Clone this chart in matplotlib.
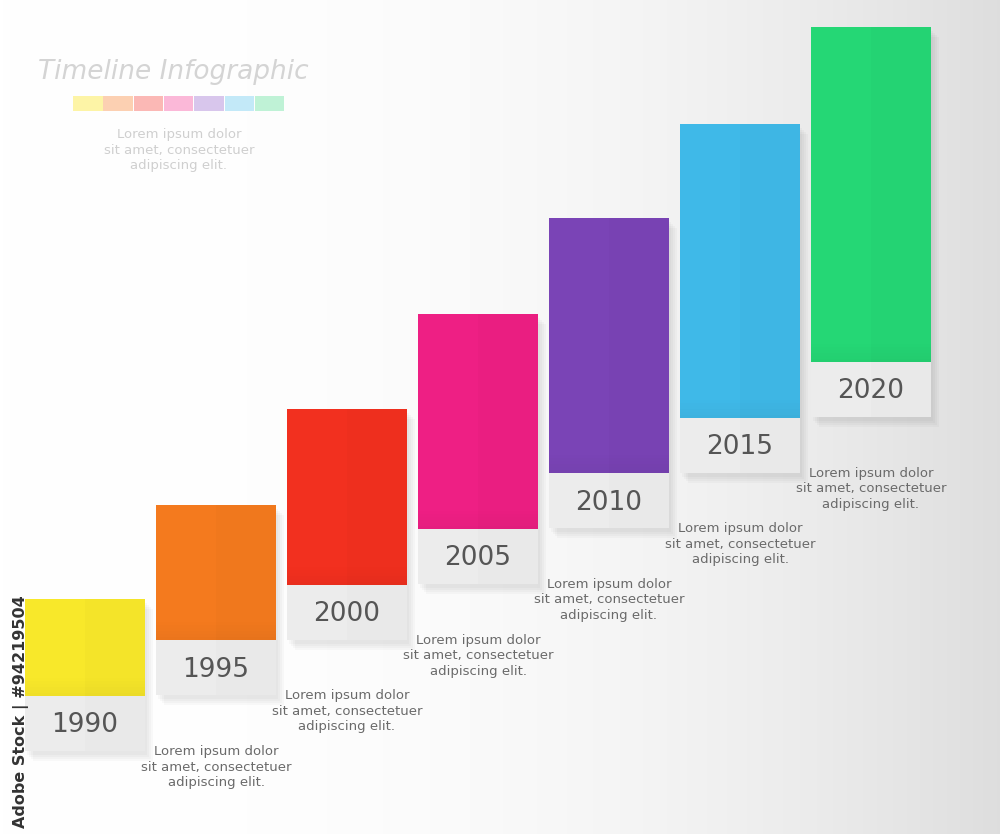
import matplotlib
matplotlib.use("Agg")
import matplotlib.pyplot as plt
import numpy as np
from matplotlib.patches import Rectangle

years = ["1990", "1995", "2000", "2005", "2010", "2015", "2020"]
colors = ["#f8e82a", "#f47a1e", "#f2301f", "#ee1f84", "#7a44b6", "#3fb9e8", "#25d775"]
bar_heights = [97, 135, 176, 215, 255, 294, 335]   # coloured part height (px)
swatches = ["#fdf4a6", "#fcd0b2", "#fbb8b5", "#fbb8d8", "#d8c6ec", "#c3e9f8", "#bff2d6"]
caption = "Lorem ipsum dolor\nsit amet, consectetuer\nadipiscing elit."

fig = plt.figure(figsize=(10, 8.34), dpi=100)
ax = fig.add_axes([0, 0, 1, 1])
ax.set_xlim(0, 1000); ax.set_ylim(834, 0); ax.axis("off")

# background gradient
grad = np.linspace(0, 1, 300) ** 2.5
bg = np.ones((10, 300, 3)) * (1 - 0.13 * grad)[None, :, None]
ax.imshow(bg, extent=[0, 1000, 834, 0], aspect="auto", zorder=0)

x0, step_x, w = 25, 131, 120
base_bottom, step_y, gray_h = 696, 55.7, 55
for i, (yr, c, h) in enumerate(zip(years, colors, bar_heights)):
    x = x0 + i * step_x
    bot = base_bottom - i * step_y
    top = bot - h
    # shadow
    for k in range(4):
        ax.add_patch(Rectangle((x + 2 + 2 * k, top + 4 + 2 * k), w, h + gray_h, color="#000000",
                               alpha=0.025, zorder=1, lw=0))
    ax.add_patch(Rectangle((x, top), w, h, color=c, zorder=2, lw=0))
    ax.add_patch(Rectangle((x + w / 2, top), w / 2, h, color="#000000", alpha=0.015, zorder=3, lw=0))
    for k in range(6):
        ax.add_patch(Rectangle((x, bot - 3 * (k + 1)), w, 3, color="#000000", alpha=0.035 * (6 - k) / 6, zorder=3, lw=0))
    ax.add_patch(Rectangle((x, bot), w, gray_h, color="#ececec", zorder=2, lw=0))
    ax.add_patch(Rectangle((x + w / 2, bot), w / 2, gray_h, color="#000000", alpha=0.01, zorder=3, lw=0))
    ax.text(x + w / 2, bot + gray_h / 2 + 2, yr, ha="center", va="center", fontsize=19, color="#555555", zorder=4)
    if i < len(years) - 1:
        ax.text(x + w / 2 + step_x, bot + gray_h - 6, caption, ha="center", va="top", fontsize=9.5,
                color="#6a6a6a", linespacing=1.25, zorder=4)

ax.text(38, 72, "Timeline Infographic", fontsize=19, style="italic", color="#d4d4d4", va="center")
for i, s in enumerate(swatches):
    ax.add_patch(Rectangle((73 + i * 30.3, 96), 29.5, 15, color=s, lw=0))
ax.text(179, 128, caption, ha="center", va="top", fontsize=9.5, color="#cfcfcf", linespacing=1.25)

ax.text(21, 712, "Adobe Stock | #94219504", rotation=90, ha="center", va="center",
        fontsize=11.5, fontweight="bold", color="#333333", zorder=5)

fig.savefig("out.png", dpi=100)
